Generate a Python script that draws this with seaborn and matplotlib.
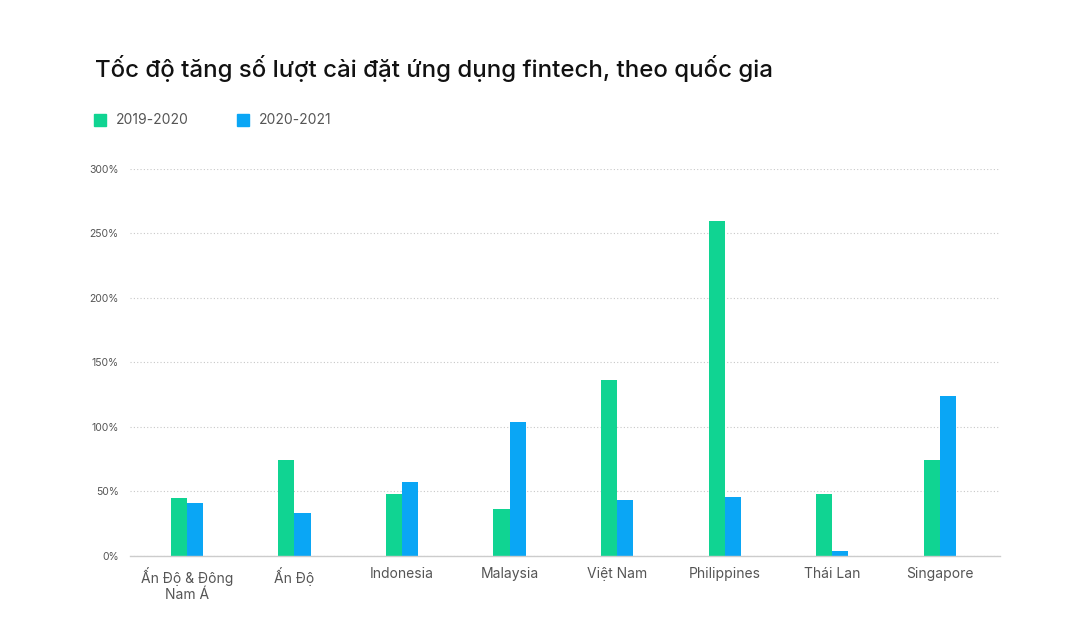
import pandas as pd
import matplotlib.pyplot as plt
import seaborn as sns
from matplotlib.patches import Rectangle

countries = ["Ấn Độ & Đông\nNam Á", "Ấn Độ", "Indonesia", "Malaysia",
             "Việt Nam", "Philippines", "Thái Lan", "Singapore"]
growth_2019_2020 = [45, 74, 48, 36, 136, 260, 48, 74]
growth_2020_2021 = [41, 33, 57, 104, 43, 46, 4, 124]
periods = ["2019-2020", "2020-2021"]
colors = ["#10D492", "#0AA6F5"]

df = pd.DataFrame({
    "country": countries * 2,
    "period": [periods[0]] * len(countries) + [periods[1]] * len(countries),
    "growth": growth_2019_2020 + growth_2020_2021,
})

sns.set_style("white")
plt.rcParams['font.family'] = ['Inter', 'DejaVu Sans']

fig = plt.figure(figsize=(10.65, 6.19), dpi=100)
ax = fig.add_axes([0.122, 0.102, 0.817, 0.625])

sns.barplot(data=df, x="country", y="growth", hue="period", palette=colors,
            width=0.3, gap=0, saturation=1, legend=False, ax=ax, linewidth=0)

ax.set_ylim(0, 300)
ax.set_xlim(-0.53, len(countries) - 0.44)
ax.set_yticks(range(0, 301, 50))
ax.set_yticklabels([f"{v}%" for v in range(0, 301, 50)], fontsize=7.5, color="#555555")
ax.tick_params(axis="x", labelsize=10, colors="#555555", length=0, pad=8)
ax.tick_params(axis="y", length=0, pad=8)
ax.set_xlabel("")
ax.set_ylabel("")
ax.yaxis.grid(True, linestyle=(0, (1, 2)), color="#c8c8c8", linewidth=0.8)
ax.set_axisbelow(True)
for s in ["top", "right", "left"]:
    ax.spines[s].set_visible(False)
ax.spines["bottom"].set_color("#cccccc")
ax.spines["bottom"].set_linewidth(1)

fig.text(0.089, 0.89, "Tốc độ tăng số lượt cài đặt ứng dụng fintech, theo quốc gia",
         fontsize=17.3, fontweight="medium", color="#111111", va="center")

# legend
for i, (p, c) in enumerate(zip(periods, colors)):
    x0 = 94 + i * 143
    fig.patches.append(Rectangle((x0 / 1065, 1 - 126 / 619), 12 / 1065, 12 / 619,
                                 transform=fig.transFigure, color=c))
    fig.text((x0 + 22) / 1065, 1 - 120 / 619, p, fontsize=10, color="#555555", va="center")

fig.savefig("out.png", dpi=100)
